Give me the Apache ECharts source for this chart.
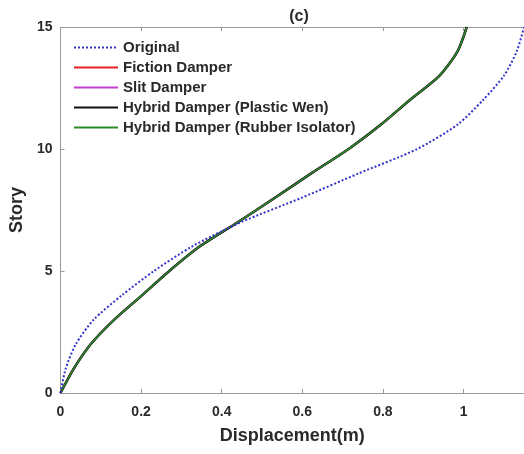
<!DOCTYPE html>
<html>
<head>
<meta charset="utf-8">
<script src="https://cdn.jsdelivr.net/npm/echarts@6/dist/echarts.min.js"></script>
<style>
  html, body { margin: 0; padding: 0; background: #fff; }
  #chart { width: 524px; height: 454px; }
</style>
</head>
<body>
<div id="chart"></div>
<script>
// Story levels (floor index) for each displacement profile
const stories = [0, 1, 2, 3, 4, 5, 6, 7, 8, 9, 10, 11, 12, 13, 14, 15];

// Peak story displacement (m)
const original       = [0, 0.013, 0.038, 0.082, 0.152, 0.232, 0.326, 0.448, 0.598, 0.740, 0.885, 0.985, 1.048, 1.100, 1.132, 1.150];
const frictionDamper = [0, 0.033, 0.075, 0.133, 0.202, 0.270, 0.345, 0.440, 0.532, 0.622, 0.715, 0.795, 0.866, 0.940, 0.985, 1.008];
const slitDamper     = [0, 0.033, 0.075, 0.133, 0.202, 0.270, 0.345, 0.440, 0.532, 0.622, 0.715, 0.795, 0.866, 0.940, 0.985, 1.008];
const hybridWen      = [0, 0.033, 0.075, 0.133, 0.202, 0.270, 0.345, 0.440, 0.532, 0.622, 0.715, 0.795, 0.866, 0.940, 0.985, 1.008];
const hybridRubber   = [0, 0.033, 0.075, 0.133, 0.202, 0.270, 0.345, 0.440, 0.532, 0.622, 0.715, 0.795, 0.866, 0.940, 0.985, 1.008];

const xTicks = { min: 0, max: 1.15, interval: 0.2 };
const yTicks = { min: 0, max: 15, interval: 5 };

const FONT = 'Arial, "Liberation Sans", sans-serif';
const AXIS_GREY = '#9a9a9a';
const TEXT = '#2a2a2a';

const pairs = vals => vals.map((d, i) => [d, stories[i]]);

const mkSeries = (name, vals, color, width, type, z) => ({
  name,
  type: 'line',
  data: pairs(vals),
  smooth: 0.25,
  symbol: 'none',
  z,
  lineStyle: { color, width, type },
  itemStyle: { color }
});

const chart = echarts.init(document.getElementById('chart'), null, { renderer: 'canvas' });
chart.setOption({
  animation: false,
  backgroundColor: '#fff',
  title: {
    text: '(c)',
    left: 294, top: 4, textAlign: 'center',
    textStyle: { fontFamily: FONT, fontSize: 16, fontWeight: 'bold', color: TEXT }
  },
  grid: { left: 60, top: 27, width: 464.6, height: 366, show: false },
  legend: {
    orient: 'vertical',
    left: 68, top: 35,
    itemWidth: 44, itemHeight: 10, itemGap: 5,
    itemStyle: { opacity: 0 },
    textStyle: { fontFamily: FONT, fontSize: 15, fontWeight: 'bold', color: TEXT },
    data: ['Original', 'Fiction Damper', 'Slit Damper', 'Hybrid Damper (Plastic Wen)', 'Hybrid Damper (Rubber Isolator)']
  },
  xAxis: [{
    type: 'value',
    min: xTicks.min, max: xTicks.max, interval: xTicks.interval,
    name: 'Displacement(m)', nameLocation: 'middle', nameGap: 34,
    nameTextStyle: { fontFamily: FONT, fontSize: 18, fontWeight: 'bold', color: TEXT, verticalAlign: 'top' },
    axisLine: { show: true, lineStyle: { color: AXIS_GREY, width: 1 } },
    axisTick: { show: true, inside: true, length: 4, lineStyle: { color: AXIS_GREY } },
    axisLabel: { showMaxLabel: false, margin: 12, fontFamily: FONT, fontSize: 14, fontWeight: 'bold', color: TEXT },
    splitLine: { show: false }
  }, {
    type: 'value', position: 'top',
    min: xTicks.min, max: xTicks.max, interval: xTicks.interval,
    axisLine: { show: true, lineStyle: { color: AXIS_GREY, width: 1 } },
    axisTick: { show: true, inside: true, length: 4, lineStyle: { color: AXIS_GREY } },
    axisLabel: { show: false },
    splitLine: { show: false }
  }],
  yAxis: {
    type: 'value',
    min: yTicks.min, max: yTicks.max, interval: yTicks.interval,
    name: 'Story', nameLocation: 'middle', nameGap: 31, nameRotate: 90,
    nameTextStyle: { fontFamily: FONT, fontSize: 18, fontWeight: 'bold', color: TEXT },
    axisLine: { show: true, lineStyle: { color: AXIS_GREY, width: 1 } },
    axisTick: { show: true, inside: true, length: 4, lineStyle: { color: AXIS_GREY } },
    axisLabel: { margin: 8, fontFamily: FONT, fontSize: 14, fontWeight: 'bold', color: TEXT },
    splitLine: { show: false }
  },
  series: [
    mkSeries('Original', original, '#3333cc', 2, [2, 2], 5),
    mkSeries('Fiction Damper', frictionDamper, '#e8212b', 2, 'solid', 1),
    mkSeries('Slit Damper', slitDamper, '#c040d0', 2, 'solid', 2),
    mkSeries('Hybrid Damper (Plastic Wen)', hybridWen, '#111111', 2.5, 'solid', 3),
    mkSeries('Hybrid Damper (Rubber Isolator)', hybridRubber, '#2a8a2a', 1.6, 'solid', 4)
  ]
});
</script>
</body>
</html>
